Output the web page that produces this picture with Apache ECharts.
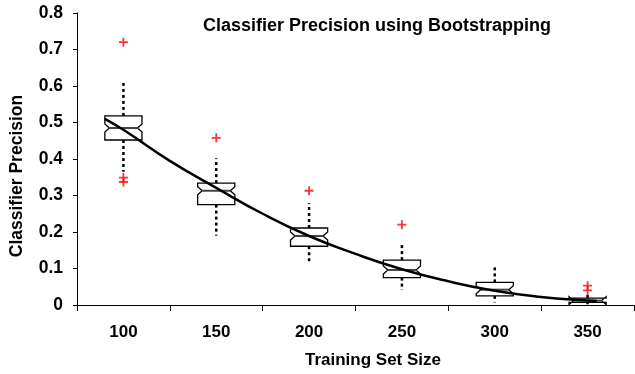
<!DOCTYPE html>
<html><head><meta charset="utf-8">
<script src="https://cdn.jsdelivr.net/npm/echarts@6/dist/echarts.min.js"></script>
<style>html,body{margin:0;padding:0;background:#fff}#c{width:635px;height:374px}</style>
</head><body><div id="c"></div>
<script>
var categories = ['100','150','200','250','300','350'];
var whiskerLow = [0.365, 0.190, 0.113, 0.041, 0.007, 0.002];
var q1 =         [0.452, 0.275, 0.161, 0.075, 0.025, 0.007];
var median =     [0.485, 0.313, 0.189, 0.096, 0.042, 0.012];
var q3 =         [0.518, 0.334, 0.211, 0.123, 0.062, 0.019];
var whiskerHigh =[0.609, 0.402, 0.279, 0.171, 0.109, 0.028];
var outlierCat = [0, 0, 0, 1, 2, 3, 5, 5];
var outlierVal = [0.72, 0.349, 0.337, 0.458, 0.313, 0.220, 0.053, 0.040];
var curveX = [90, 100, 125, 150, 175, 200, 225, 250, 275, 300, 325, 350, 355];
var curveY = [0.51, 0.48, 0.395, 0.321, 0.25, 0.189, 0.14, 0.098, 0.065, 0.039, 0.022, 0.012, 0.011];
var yTicks = ['0','0.1','0.2','0.3','0.4','0.5','0.6','0.7','0.8'];

var boxData = categories.map(function(c,i){return [i, whiskerLow[i], q1[i], median[i], q3[i], whiskerHigh[i]];});
var outData = outlierCat.map(function(c,i){return [c, outlierVal[i]];});
var curveData = curveX.map(function(x,i){return [x, curveY[i]];});
var FONT = 'Liberation Sans, Arial, sans-serif';

var chart = echarts.init(document.getElementById('c'), null, {renderer:'canvas'});
chart.setOption({
  animation:false,
  backgroundColor:'#fff',
  title:{text:'Classifier Precision using Bootstrapping', left:372, top:12, textAlign:'center',
    textStyle:{fontFamily:FONT, fontWeight:'bold', fontSize:18, color:'#000'}},
  grid:{left:77, right:1, top:13, bottom:67.5, containLabel:false},
  xAxis:[{type:'category', data:categories, boundaryGap:true,
    axisLine:{lineStyle:{color:'#000', width:1}},
    axisTick:{show:true, length:6, lineStyle:{color:'#000'}},
    axisLabel:{fontFamily:FONT, fontWeight:'bold', fontSize:17, color:'#000', margin:19},
    name:'Training Set Size', nameLocation:'middle', nameGap:47,
    nameTextStyle:{fontFamily:FONT, fontWeight:'bold', fontSize:17, color:'#000', padding:[0,0,0,35]},
    splitLine:{show:false}},
   {type:'value', min:75, max:375, show:false}],
  yAxis:{type:'value', min:0, max:0.8, interval:0.1,
    axisLine:{show:true, lineStyle:{color:'#000', width:1}},
    axisTick:{show:true, length:4, lineStyle:{color:'#000'}},
    axisLabel:{fontFamily:FONT, fontWeight:'bold', fontSize:17.5, color:'#000', margin:14,
      formatter:function(v){return yTicks[Math.round(v*10)];}},
    splitLine:{show:false},
    name:'Classifier Precision', nameLocation:'middle', nameGap:51,
    nameTextStyle:{fontFamily:FONT, fontWeight:'bold', fontSize:17.5, color:'#000', padding:[0,34,0,0]}},
  series:[
    {type:'custom', xAxisIndex:0, data:boxData, z:2,
     renderItem:function(params, api){
       var i = api.value(0);
       var c = api.coord([i, api.value(3)]);
       var cx = c[0], my = c[1];
       var lo = api.coord([i, api.value(1)])[1];
       var b1 = api.coord([i, api.value(2)])[1];
       var b3 = api.coord([i, api.value(4)])[1];
       var hi = api.coord([i, api.value(5)])[1];
       var hw = api.size([1,0])[0]*0.2;
       var l = cx-hw, r = cx+hw, n = 4, d = 4.5;
       var pts = [[l,b3],[r,b3],[r,my-n],[r-d,my],[r,my+n],[r,b1],[l,b1],[l,my+n],[l+d,my],[l,my-n]];
       return {type:'group', children:[
         {type:'line', shape:{x1:cx,y1:b3,x2:cx,y2:hi}, style:{stroke:'#000', lineWidth:2.5, lineDash:[3,3]}},
         {type:'line', shape:{x1:cx,y1:b1,x2:cx,y2:lo}, style:{stroke:'#000', lineWidth:2.5, lineDash:[3,3]}},
         {type:'polygon', shape:{points:pts}, style:{fill:'#fff', stroke:'#000', lineWidth:1.3}},
         {type:'line', shape:{x1:l+d,y1:my,x2:r-d,y2:my}, style:{stroke:'#444', lineWidth:2}}
       ]};
     }},
    {type:'line', xAxisIndex:1, data:curveData, smooth:true, showSymbol:false, z:3,
     lineStyle:{color:'#000', width:2.5}},
    {type:'scatter', xAxisIndex:0, data:outData, z:4,
     symbol:'path://M4,0h2v4h4v2h-4v4h-2v-4h-4v-2h4z', symbolSize:9,
     itemStyle:{color:'#ff0000'}}
  ]
});
</script></body></html>
